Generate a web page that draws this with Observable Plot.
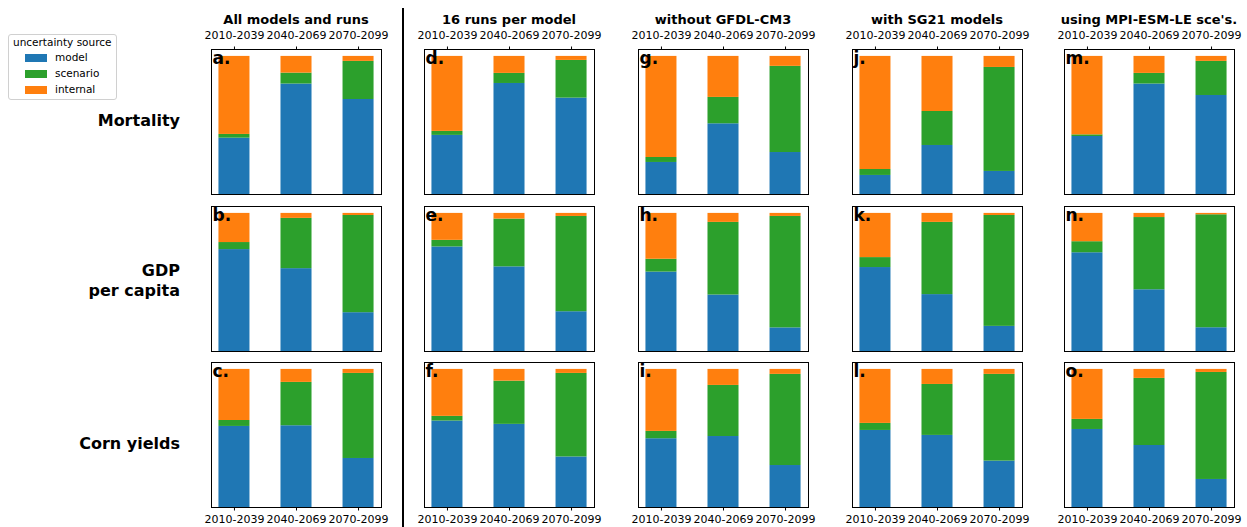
<!DOCTYPE html>
<html><head><meta charset="utf-8">
<script src="https://cdn.jsdelivr.net/npm/d3@7"></script>
<script src="https://cdn.jsdelivr.net/npm/@observablehq/plot@0.6"></script>
<style>
body{margin:0;background:#fff;font-family:"DejaVu Sans",sans-serif;}
#fig{position:relative;width:1247px;height:527px;overflow:hidden;background:#fff;}
.abs{position:absolute;white-space:nowrap;}
.coltitle{font-weight:bold;font-size:13px;transform:translateX(-50%);}
.rowlabel{font-weight:bold;font-size:16px;text-align:right;line-height:20px;}
#legend{position:absolute;left:8px;top:34px;width:107px;height:64px;border:1px solid #d0d0d0;border-radius:3px;background:#fff;font-size:10.5px;}
.sw{position:absolute;width:22px;height:8px;}
</style></head><body><div id="fig"></div>
<script>
const periods = ["2010-2039", "2040-2069", "2070-2099"];
const sources = ["model", "scenario", "internal"];
const sourceColors = ["#1f77b4", "#2ca02c", "#ff7f0e"];
const columnTitles = ["All models and runs", "16 runs per model", "without GFDL-CM3", "with SG21 models", "using MPI-ESM-LE sce's."];
const rowLabels = ["Mortality", "GDP\nper capita", "Corn yields"];
const panelLetters = [["a.", "d.", "g.", "j.", "m."], ["b.", "e.", "h.", "k.", "n."], ["c.", "f.", "i.", "l.", "o."]];

// fractions per column (5) x period (3)
const mortalityModel    = [[0.408, 0.800, 0.688], [0.428, 0.804, 0.698], [0.232, 0.512, 0.304], [0.138, 0.355, 0.167], [0.420, 0.800, 0.717]];
const mortalityScenario = [[0.027, 0.079, 0.276], [0.029, 0.073, 0.273], [0.036, 0.191, 0.624], [0.043, 0.246, 0.753], [0.012, 0.077, 0.247]];
const mortalityInternal = [[0.565, 0.121, 0.036], [0.543, 0.123, 0.029], [0.732, 0.297, 0.072], [0.819, 0.399, 0.080], [0.568, 0.123, 0.036]];

const gdpModel    = [[0.738, 0.600, 0.281], [0.757, 0.613, 0.288], [0.575, 0.409, 0.171], [0.608, 0.412, 0.182], [0.715, 0.447, 0.172]];
const gdpScenario = [[0.051, 0.364, 0.704], [0.048, 0.346, 0.690], [0.093, 0.526, 0.807], [0.072, 0.523, 0.803], [0.080, 0.523, 0.818]];
const gdpInternal = [[0.211, 0.036, 0.015], [0.195, 0.041, 0.022], [0.332, 0.065, 0.022], [0.320, 0.065, 0.015], [0.205, 0.030, 0.010]];

const cornModel    = [[0.587, 0.592, 0.355], [0.626, 0.602, 0.366], [0.498, 0.514, 0.304], [0.558, 0.522, 0.336], [0.565, 0.449, 0.203]];
const cornScenario = [[0.043, 0.314, 0.616], [0.034, 0.313, 0.605], [0.053, 0.370, 0.660], [0.051, 0.369, 0.628], [0.073, 0.486, 0.775]];
const cornInternal = [[0.370, 0.094, 0.029], [0.340, 0.085, 0.029], [0.449, 0.116, 0.036], [0.391, 0.109, 0.036], [0.362, 0.065, 0.022]];

const rowSeries = [
  [mortalityModel, mortalityScenario, mortalityInternal],
  [gdpModel, gdpScenario, gdpInternal],
  [cornModel, cornScenario, cornInternal]
];

const fig = document.getElementById("fig");
const colLeft = [211, 424, 638, 852, 1064];
const rowTop = [49, 206, 362];
const fw = 170, fh = 145, mL = 22, mR = 22, mT = 30, mB = 24;

for (let r = 0; r < 3; r++) {
  for (let c = 0; c < 5; c++) {
    const data = [];
    periods.forEach((p, i) => {
      sources.forEach((s, k) => data.push({period: p, source: s, value: rowSeries[r][k][c][i]}));
    });
    const axis = r === 0 ? "top" : r === 2 ? "bottom" : null;
    const plot = Plot.plot({
      width: fw + mL + mR,
      height: fh + mT + mB,
      marginLeft: mL, marginRight: mR, marginTop: mT, marginBottom: mB,
      style: {background: "transparent", fontSize: "11px", fontFamily: "DejaVu Sans", color: "#000", overflow: "visible"},
      x: {domain: periods, paddingInner: 0.5, paddingOuter: 0.12, round: false, axis, tickSize: 3.5, tickPadding: r === 0 ? 7 : 4.5, label: null},
      y: {domain: [0, 1.05], axis: null},
      color: {domain: sources, range: sourceColors},
      marks: [
        Plot.barY(data, {x: "period", y: "value", fill: "source"}),
        Plot.frame({stroke: "#000", strokeWidth: 1}),
        Plot.text([panelLetters[r][c]], {text: d => d, frameAnchor: "top-left", textAnchor: "start", lineAnchor: "top", dx: 1, dy: 2, fontSize: 17, fontWeight: "bold", fill: "#000"})
      ]
    });
    plot.classList.add("abs");
    plot.style.left = (colLeft[c] - mL) + "px";
    plot.style.top = (rowTop[r] - mT) + "px";
    fig.appendChild(plot);
  }
}

// column titles
columnTitles.forEach((t, c) => {
  const d = document.createElement("div");
  d.className = "abs coltitle";
  d.textContent = t;
  d.style.left = (colLeft[c] + fw / 2) + "px";
  d.style.top = "12px";
  fig.appendChild(d);
});

// row labels
const rowLabelCenters = [121, 281, 444];
rowLabels.forEach((t, r) => {
  const lines = t.split("\n");
  const d = document.createElement("div");
  d.className = "abs rowlabel";
  d.innerHTML = lines.join("<br>");
  d.style.right = (1247 - 180) + "px";
  d.style.top = (rowLabelCenters[r] - lines.length * 10) + "px";
  fig.appendChild(d);
});

// divider
const div = document.createElement("div");
div.className = "abs";
Object.assign(div.style, {left: "402px", top: "8px", width: "2px", height: "519px", background: "#000"});
fig.appendChild(div);

// legend
const lg = document.createElement("div");
lg.id = "legend";
let html = '<div class="abs" style="left:4px;top:1px;">uncertainty source</div>';
sources.forEach((s, k) => {
  const y = 19 + k * 16;
  html += `<div class="sw" style="left:16px;top:${y}px;background:${sourceColors[k]}"></div>`;
  html += `<div class="abs" style="left:46px;top:${y - 3}px;">${s}</div>`;
});
lg.innerHTML = html;
fig.appendChild(lg);
</script>
</body></html>
